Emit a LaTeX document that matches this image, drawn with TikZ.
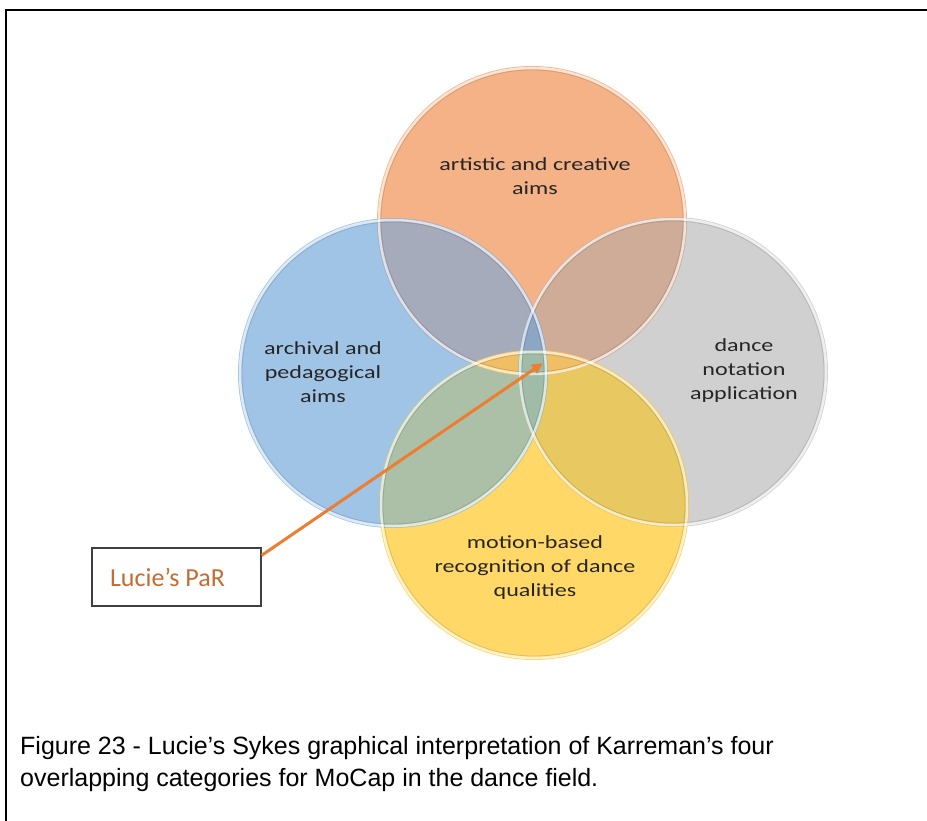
\documentclass[tikz,border=0pt]{standalone}
\usepackage{fontspec}
\setmainfont{Liberation Sans}
\newfontfamily\calib{Carlito}
\usetikzlibrary{arrows.meta}
\definecolor{cO}{RGB}{245,178,134}
\definecolor{cB}{RGB}{160,196,230}
\definecolor{cG}{RGB}{208,208,208}
\definecolor{cY}{RGB}{255,216,104}
\definecolor{cOB}{RGB}{166,171,188}
\definecolor{cOG}{RGB}{207,172,152}
\definecolor{cBG}{RGB}{140,166,196}
\definecolor{cBY}{RGB}{172,192,168}
\definecolor{cGY}{RGB}{232,200,96}
\definecolor{cOY}{RGB}{240,190,100}
\definecolor{cBGY}{RGB}{160,188,168}
\definecolor{cArrow}{RGB}{237,125,49}
\definecolor{cPar}{RGB}{196,108,52}
\definecolor{cBox}{RGB}{64,64,64}
\definecolor{cTxt}{RGB}{38,38,38}
\tikzset{
  rimglow/.style={draw=white, draw opacity=0.65, line width=2.5pt},
  rimline/.style={draw=black, draw opacity=0.12, line width=0.8pt},
  lbl/.style={font=\calib\fontsize{18.5}{24}\selectfont, text=cTxt, align=center,
              xscale=1.3, transform shape},
  captext/.style={font=\fontsize{25}{32}\selectfont, anchor=base west, align=left, inner sep=0pt},
}
\begin{document}
\begin{tikzpicture}[x=1pt,y=-1pt]
\useasboundingbox (0,0) rectangle (927,820);
% outer frame (right and lower sides run off the page)
\draw[line width=1.6pt] (935,10) -- (6,10) -- (6,830);

% circle centres
\coordinate (O) at (532,221);
\coordinate (B) at (393,373);
\coordinate (G) at (673,372);
\coordinate (Y) at (534,505);
\def\R{155}

% base discs
\fill[cO] (O) circle (\R);
\fill[cB] (B) circle (\R);
\fill[cG] (G) circle (\R);
\fill[cY] (Y) circle (\R);

% pairwise overlaps
\begin{scope}\clip (O) circle (\R); \fill[cOB] (B) circle (\R); \end{scope}
\begin{scope}\clip (O) circle (\R); \fill[cOG] (G) circle (\R); \end{scope}
\begin{scope}\clip (B) circle (\R); \fill[cBG] (G) circle (\R); \end{scope}
\begin{scope}\clip (B) circle (\R); \fill[cBY] (Y) circle (\R); \end{scope}
\begin{scope}\clip (G) circle (\R); \fill[cGY] (Y) circle (\R); \end{scope}
\begin{scope}\clip (O) circle (\R); \fill[cOY] (Y) circle (\R); \end{scope}
\begin{scope}\clip (B) circle (\R); \clip (G) circle (\R); \fill[cBGY] (Y) circle (\R); \end{scope}

% soft rims
\foreach \c in {O,B,G,Y} {
  \path[rimglow] (\c) circle (\R-2);
  \path[rimline] (\c) circle (\R-4);
}

% labels
\node[lbl] (tO) at (535,176) {artistic and creative\\aims};
\node[lbl] (tB) at (323,372) {archival and\\pedagogical\\aims};
\node[lbl] (tG) at (744,371) {dance\\notation\\application};
\node[lbl] (tY) at (535,568) {motion-based\\recognition of dance\\qualities};

% callout box and arrow
\node[draw=cBox, line width=1.2pt, minimum width=169pt, minimum height=58pt,
      font=\calib\fontsize{26}{30}\selectfont, text=cPar] (par) at (176.5,577) {Lucie’s PaR\kern18pt};
\coordinate (tip) at (543,363);
\draw[cArrow, line width=3pt, -{Triangle[length=11pt,width=10pt]}] (par.north east) ++(0,8) -- (tip);

% caption
\node[captext] (caption) at (20,786) {Figure 23 - Lucie’s Sykes graphical interpretation of Karreman’s four\\overlapping categories for MoCap in the dance field.};
\end{tikzpicture}
\end{document}
